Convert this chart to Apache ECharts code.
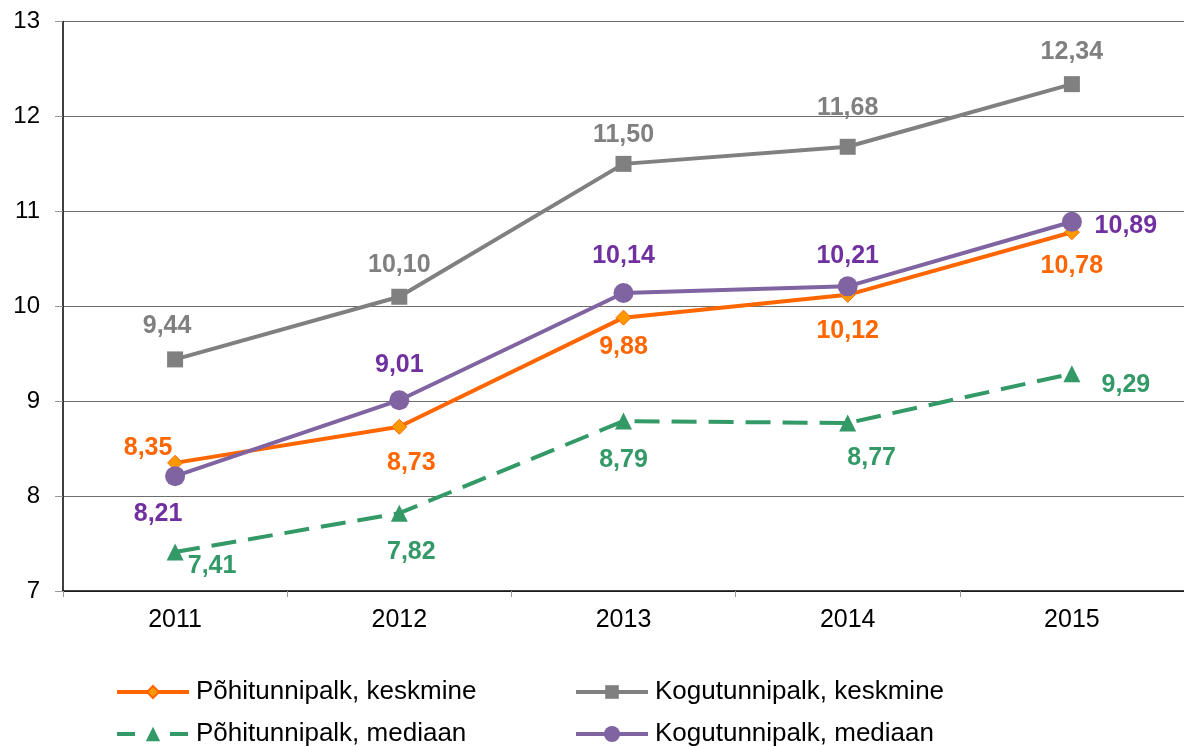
<!DOCTYPE html>
<html><head><meta charset="utf-8">
<script src="https://cdn.jsdelivr.net/npm/echarts@6/dist/echarts.min.js"></script>
<style>html,body{margin:0;padding:0;background:#fff}#c{width:1184px;height:746px}</style>
</head><body><div id="c"></div>
<script>
const categories = ['2011','2012','2013','2014','2015'];
const yTicks = [7, 8, 9, 10, 11, 12, 13];
const pohiKeskmine = [8.35, 8.73, 9.88, 10.12, 10.78];
const koguKeskmine = [9.44, 10.10, 11.50, 11.68, 12.34];
const pohiMediaan = [7.41, 7.82, 8.79, 8.77, 9.29];
const koguMediaan = [8.21, 9.01, 10.14, 10.21, 10.89];
const seriesNames = ['Põhitunnipalk, keskmine','Kogutunnipalk, keskmine','Põhitunnipalk, mediaan','Kogutunnipalk, mediaan'];

// label offsets (px) relative to each point
const offPK = [[-27,-15],[12,36],[0,29],[0,36],[0,34]];
const offKK = [[-8,-33],[0,-32],[0,-29],[0,-39],[0,-32]];
const offPM = [[37,14],[12,39],[0,39],[24,35],[54,11]];
const offKM = [[-17,38],[0,-35],[0,-37],[0,-30],[54,4]];

const FONT = 'Liberation Sans, Arial, sans-serif';
const fmt = v => v.toFixed(2).replace('.', ',');
function pts(vals, offs) {
  return vals.map((v,i) => ({value: v, label: {offset: offs[i]}}));
}
function lbl(color) {
  return {show: true, position: 'inside', color: color, fontFamily: FONT,
    fontWeight: 'bold', fontSize: 25, formatter: p => fmt(p.value)};
}
const chart = echarts.init(document.getElementById('c'));
function legend(name, left, top, h, lineType) {
  return {orient:'horizontal', itemWidth: 72, itemHeight: h, padding: 0, itemGap: 0,
    left: left, top: top, data: [name],
    lineStyle: {width: 4, type: lineType || 'solid'},
    textStyle: {fontFamily: FONT, fontSize: 26, color: '#000', padding:[0,0,0,2]}};
}
chart.setOption({
  animation: false,
  legend: [
    legend(seriesNames[0], 115, 679, 15),
    legend(seriesNames[1], 574, 679, 17),
    legend(seriesNames[2], 115, 721, 18, [18, 35]),
    legend(seriesNames[3], 574, 721, 20)
  ],
  grid: {left: 63, right: 0, top: 21.5, bottom: 155, containLabel: false},
  xAxis: {type: 'category', data: categories, boundaryGap: true,
    axisLine: {lineStyle: {color: '#000', width: 1.5}},
    axisTick: {show: true, length: 6, lineStyle: {color: '#999'}},
    axisLabel: {fontFamily: FONT, fontSize: 25, color: '#000', margin: 17}},
  yAxis: {type: 'value', min: yTicks[0], max: yTicks[yTicks.length-1], interval: 1,
    axisLine: {show: true, lineStyle: {color: '#000', width: 1.5}},
    axisTick: {show: true, length: 8, lineStyle: {color: '#999'}},
    axisLabel: {fontFamily: FONT, fontSize: 24, color: '#000', margin: 23},
    splitLine: {lineStyle: {color: '#6e6e6e', width: 1.2}}},
  series: [
    {name: seriesNames[1], type: 'line', data: pts(koguKeskmine, offKK), z: 2,
      symbol: 'rect', symbolSize: 16, lineStyle: {color: '#808080', width: 4},
      itemStyle: {color: '#808080'}, label: lbl('#808080')},
    {name: seriesNames[2], type: 'line', data: pts(pohiMediaan, offPM), z: 3,
      symbol: 'triangle', symbolSize: 17, lineStyle: {color: '#339966', width: 4, type: [25, 12]},
      itemStyle: {color: '#339966'}, label: lbl('#339966')},
    {name: seriesNames[0], type: 'line', data: pts(pohiKeskmine, offPK), z: 4,
      symbol: 'diamond', symbolSize: 15, lineStyle: {color: '#ff6600', width: 4},
      itemStyle: {color: '#ff9900', borderColor: '#ff6600', borderWidth: 1}, label: lbl('#ff6600')},
    {name: seriesNames[3], type: 'line', data: pts(koguMediaan, offKM), z: 5,
      symbol: 'circle', symbolSize: 20, lineStyle: {color: '#8064a2', width: 4},
      itemStyle: {color: '#8064a2'}, label: lbl('#7030a0')}
  ]
});
</script></body></html>
